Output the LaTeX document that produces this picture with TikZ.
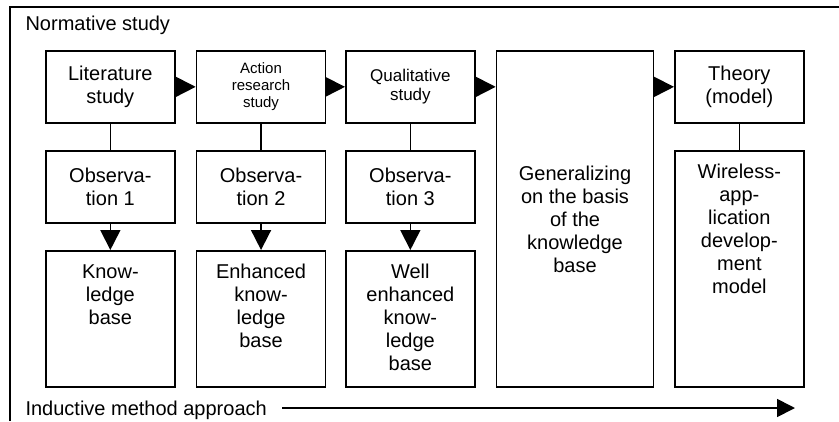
\documentclass[tikz,border=0pt]{standalone}
\usepackage{fontspec}
\setmainfont{Liberation Sans}
\usetikzlibrary{arrows.meta}

% text block hung from the top edge of a box of given height and width
\newcommand\hangtext[3]{\parbox[c][#1][t]{#2}{\centering\vspace*{11.9pt}\strut #3}}

\begin{document}
\begin{tikzpicture}[x=1pt,y=-1pt,
  stage/.style={draw, line width=1.7pt, inner sep=0pt, anchor=north west,
    minimum width=129pt, font=\fontsize{20}{23}\selectfont},
  centred/.style={stage, align=center},
  link/.style={line width=1.7pt},
  flow/.style={line width=1.7pt, -{Triangle[length=20pt,width=20pt]}},
  longflow/.style={line width=1.7pt, -{Triangle[length=18pt,width=18pt]}}]

\useasboundingbox (0,0) rectangle (839,421);

% open frame of the normative study
\draw[line width=1.7pt] (10,421) -- (10,7) -- (839,7);
\node[anchor=base west, font=\fontsize{20}{23}\selectfont] (norm) at (22,30) {Normative study};

% first row: studies
\node[centred, minimum height=72pt] (lit) at (45,50) {Literature\\study};
\node[centred, minimum height=72pt, font=\fontsize{15}{17}\selectfont] (act) at (195.7,50) {Action\\research\\study};
\node[centred, minimum height=72pt, font=\fontsize{17}{19}\selectfont] (qual) at (345,50) {Qualitative\\study};
\node[centred, minimum height=336pt, minimum width=157pt] (gen) at (495.7,50) {Generalizing\\on the basis\\of the\\knowledge\\base};
\node[centred, minimum height=72pt] (theory) at (674,50) {Theory\\(model)};

% second row: observations
\node[centred, minimum height=72pt] (obs1) at (45,150) {Observa-\\tion 1};
\node[centred, minimum height=72pt] (obs2) at (195.7,150) {Observa-\\tion 2};
\node[centred, minimum height=72pt] (obs3) at (345,150) {Observa-\\tion 3};
\node[stage] (model) at (674,150) {\hangtext{236pt}{129pt}{Wireless-\\app-\\lication\\develop-\\ment\\model}};

% third row: knowledge bases
\node[stage] (kb1) at (45,250) {\hangtext{136pt}{129pt}{Know-\\ledge\\base}};
\node[stage] (kb2) at (195.7,250) {\hangtext{136pt}{129pt}{Enhanced\\know-\\ledge\\base}};
\node[stage] (kb3) at (345,250) {\hangtext{136pt}{129pt}{Well\\enhanced\\know-\\ledge\\base}};

% horizontal flow between studies
\draw[flow] (lit.east) -- (act.west);
\draw[flow] (act.east) -- (qual.west);
\draw[flow] (qual.east) -- (qual.east -| gen.west);
\draw[flow] (gen.east |- theory.west) -- (theory.west);

% study to observation
\draw[link] (lit.south) -- (obs1.north);
\draw[link] (act.south) -- (obs2.north);
\draw[link] (qual.south) -- (obs3.north);
\draw[link] (theory.south) -- (model.north);

% observation to knowledge base
\draw[flow] (obs1.south) -- (kb1.north);
\draw[flow] (obs2.south) -- (kb2.north);
\draw[flow] (obs3.south) -- (kb3.north);

% inductive approach along the bottom
\node[anchor=base west, font=\fontsize{20}{23}\selectfont] (induct) at (22,415) {Inductive method approach};
\coordinate (indstart) at (282,408);
\coordinate (indend) at (795,408);
\draw[longflow] (indstart) -- (indend);

\end{tikzpicture}
\end{document}
